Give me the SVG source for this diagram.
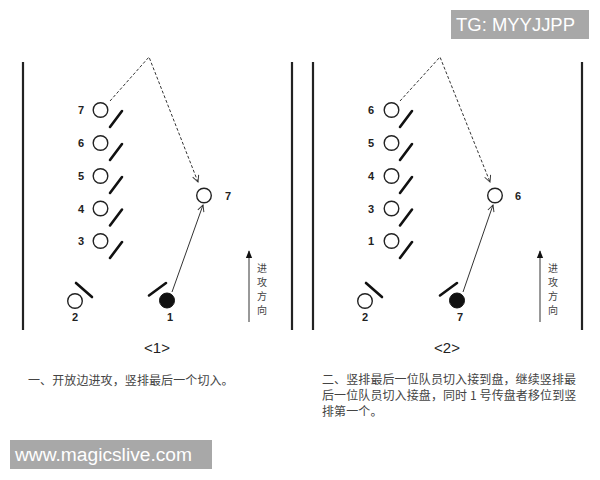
<svg xmlns="http://www.w3.org/2000/svg" width="600" height="480" viewBox="0 0 600 480">
<defs>
<style>
.side{stroke:#222;stroke-width:2.2;fill:none}
.p{fill:#fff;stroke:#222;stroke-width:1.4}
.ball{fill:#111;stroke:#111;stroke-width:1}
.bar{stroke:#111;stroke-width:2.6;stroke-linecap:round}
.num{font-family:"Liberation Sans",Arial,sans-serif;font-weight:bold;font-size:11px;fill:#222;text-anchor:middle;dominant-baseline:central}
.dash{stroke:#333;stroke-width:1;stroke-dasharray:3 2;fill:none}
.solid{stroke:#333;stroke-width:1;fill:none}
.dir{font-family:"Noto Sans CJK SC",sans-serif;font-size:10px;fill:#444;text-anchor:middle;dominant-baseline:central}
.tag{font-family:"Liberation Sans",Arial,sans-serif;font-size:15px;fill:#222;text-anchor:middle;dominant-baseline:central}
.cap{font-family:"Noto Sans CJK SC",sans-serif;font-size:12px;fill:#444;letter-spacing:0.1px}
.wm{fill:#a8a8a8}
.wmt{font-family:"Liberation Sans",Arial,sans-serif;fill:#fff;font-size:18px}
</style>
<marker id="open" viewBox="0 0 10 10" refX="9" refY="5" markerWidth="8" markerHeight="8" orient="auto" markerUnits="userSpaceOnUse">
<path d="M1,1 L9,5 L1,9" fill="none" stroke="#333" stroke-width="1.2"/>
</marker>
<marker id="fill" viewBox="0 0 10 10" refX="9" refY="5" markerWidth="8" markerHeight="8" orient="auto" markerUnits="userSpaceOnUse">
<path d="M0,1 L10,5 L0,9 Z" fill="#111"/>
</marker>
</defs>
<rect width="600" height="480" fill="#fff"/>

<!-- Panel 1 -->
<g id="panel1">
<line class="side" x1="23" y1="62" x2="23" y2="330"/>
<line class="side" x1="292" y1="62" x2="292" y2="330"/>
</g>
<g id="p1-7"><circle class="p" cx="100.5" cy="110" r="7.3"/><line class="bar" x1="110" y1="127" x2="122" y2="111"/><text class="num" x="81" y="110">7</text></g>
<g id="p1-6"><circle class="p" cx="100.5" cy="143" r="7.3"/><line class="bar" x1="110" y1="160" x2="122" y2="144"/><text class="num" x="81" y="143">6</text></g>
<g id="p1-5"><circle class="p" cx="100.5" cy="176" r="7.3"/><line class="bar" x1="110" y1="193" x2="122" y2="177"/><text class="num" x="81" y="176">5</text></g>
<g id="p1-4"><circle class="p" cx="100.5" cy="208.5" r="7.3"/><line class="bar" x1="110" y1="225.5" x2="122" y2="209.5"/><text class="num" x="81" y="208.5">4</text></g>
<g id="p1-3"><circle class="p" cx="100.5" cy="241" r="7.3"/><line class="bar" x1="110" y1="258" x2="122" y2="242"/><text class="num" x="81" y="241">3</text></g>
<g id="p1-r7"><circle class="p" cx="204" cy="195.5" r="7.3"/><text class="num" x="228" y="196">7</text></g>
<g id="p1-2"><circle class="p" cx="75" cy="301" r="7.3"/><line class="bar" x1="76" y1="283" x2="92" y2="297"/><text class="num" x="75" y="317">2</text></g>
<g id="p1-1"><circle class="ball" cx="167" cy="300.5" r="7.5"/><line class="bar" x1="149" y1="295.5" x2="166" y2="283"/><text class="num" x="170" y="317">1</text></g>
<g id="p1-dir"><line class="solid" x1="249" y1="322" x2="249" y2="251" marker-end="url(#fill)" stroke-width="1.2"/>
<text class="dir" x="262" y="267">进</text><text class="dir" x="262" y="281">攻</text><text class="dir" x="262" y="295">方</text><text class="dir" x="262" y="309">向</text></g>
<text class="tag" x="157" y="347">&lt;1&gt;</text>
<text class="cap" x="28" y="385">一、开放边进攻，竖排最后一个切入。</text>

<!-- Panel 2 -->
<g id="panel2">
<line class="side" x1="313" y1="62" x2="313" y2="330"/>
<line class="side" x1="582" y1="62" x2="582" y2="330"/>
</g>
<g id="p2-6"><circle class="p" cx="391.5" cy="110" r="7.3"/><line class="bar" x1="400" y1="127" x2="412" y2="111"/><text class="num" x="371" y="110">6</text></g>
<g id="p2-5"><circle class="p" cx="391.5" cy="143" r="7.3"/><line class="bar" x1="400" y1="160" x2="412" y2="144"/><text class="num" x="371" y="143">5</text></g>
<g id="p2-4"><circle class="p" cx="391.5" cy="176" r="7.3"/><line class="bar" x1="400" y1="193" x2="412" y2="177"/><text class="num" x="371" y="176">4</text></g>
<g id="p2-3"><circle class="p" cx="391.5" cy="208.5" r="7.3"/><line class="bar" x1="400" y1="225.5" x2="412" y2="209.5"/><text class="num" x="371" y="208.5">3</text></g>
<g id="p2-1"><circle class="p" cx="391.5" cy="241" r="7.3"/><line class="bar" x1="400" y1="258" x2="412" y2="242"/><text class="num" x="371" y="241">1</text></g>
<g id="p2-r6"><circle class="p" cx="495" cy="195.5" r="7.3"/><text class="num" x="518" y="196">6</text></g>
<g id="p2-2"><circle class="p" cx="365" cy="301" r="7.3"/><line class="bar" x1="366" y1="283" x2="382" y2="297"/><text class="num" x="365" y="317">2</text></g>
<g id="p2-7"><circle class="ball" cx="457" cy="300.5" r="7.5"/><line class="bar" x1="440" y1="295.5" x2="457" y2="283"/><text class="num" x="460" y="317">7</text></g>
<g id="p2-dir"><line class="solid" x1="540" y1="322" x2="540" y2="251" marker-end="url(#fill)" stroke-width="1.2"/>
<text class="dir" x="553" y="267">进</text><text class="dir" x="553" y="281">攻</text><text class="dir" x="553" y="295">方</text><text class="dir" x="553" y="309">向</text></g>
<text class="tag" x="447" y="347">&lt;2&gt;</text>
<text class="cap" x="322" y="384">二、竖排最后一位队员切入接到盘，继续竖排最</text>
<text class="cap" x="322" y="400">后一位队员切入接盘，同时 1 号传盘者移位到竖</text>
<text class="cap" x="322" y="416">排第一个。</text>

<!-- Connectors -->
<g id="connectors">
<polyline class="dash" points="110,101 149,57 198,182" marker-end="url(#open)"/>
<line class="solid" x1="172" y1="292" x2="203" y2="205" marker-end="url(#open)"/>
<polyline class="dash" points="400,101 440,57 490,182" marker-end="url(#open)"/>
<line class="solid" x1="463" y1="292" x2="493" y2="205" marker-end="url(#open)"/>
</g>

<!-- Watermarks -->
<g id="wm1"><rect class="wm" x="10" y="440" width="202" height="29"/><text class="wmt" x="15" y="461" textLength="177" lengthAdjust="spacingAndGlyphs">www.magicslive.com</text></g>
<g id="wm2"><rect class="wm" x="451" y="10" width="138" height="29"/><text class="wmt" x="456" y="31" textLength="119" lengthAdjust="spacingAndGlyphs">TG: MYYJJPP</text></g>
</svg>
